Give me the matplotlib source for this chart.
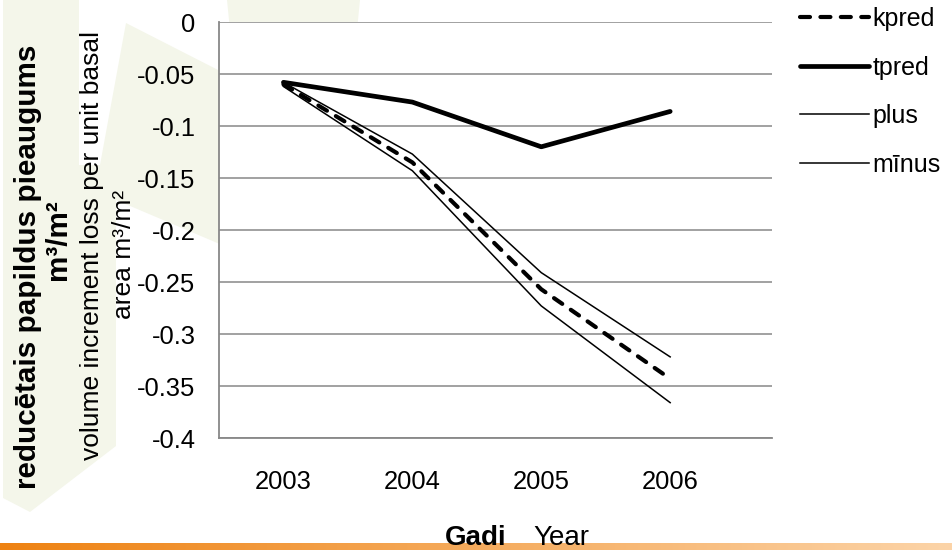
import numpy as np
import matplotlib
matplotlib.use("Agg")
import matplotlib.pyplot as plt
from matplotlib.patches import Polygon
from matplotlib.ticker import FuncFormatter, MultipleLocator

plt.rcParams['font.family'] = ['Liberation Sans', 'DejaVu Sans']
plt.rcParams['axes.unicode_minus'] = False

# Data
years = ['2003', '2004', '2005', '2006']
kpred = [-0.060, -0.135, -0.257, -0.343]
tpred = [-0.058, -0.077, -0.120, -0.086]
plus = [-0.058, -0.127, -0.241, -0.322]
minus = [-0.062, -0.143, -0.273, -0.366]

W, H = 952, 550
fig = plt.figure(figsize=(W / 100, H / 100), dpi=100)
fig.patch.set_facecolor('white')


def fx(x):
    return x / W


def fy(y):
    return 1 - y / H


# Pale decorative shapes of the slide background
shape_color = '#f4f6ea'
shapes = [
    [(3, 0), (79, 0), (79, 165), (100, 165), (116, 178), (116, 446),
     (30, 512), (3, 498)],
    [(126, 23), (222, 72), (222, 245), (116, 200), (100, 165)],
    [(227, 0), (360, 0), (357, 30), (230, 30)],
]
for pts in shapes:
    fig.patches.append(Polygon([(fx(x), fy(y)) for x, y in pts], closed=True,
                               transform=fig.transFigure, facecolor=shape_color,
                               edgecolor='none', zorder=0))

# Orange gradient bar along the bottom edge
bar_ax = fig.add_axes([0, 0, 1, 7 / H])
bar_ax.set_axis_off()
c0 = np.array([0xee, 0x82, 0x12]) / 255
c1 = np.array([0xfc, 0xd4, 0xa8]) / 255
t = np.linspace(0, 1, 400)[None, :, None]
grad = c0 + (c1 - c0) * t
bar_ax.imshow(grad, aspect='auto', extent=[0, 1, 0, 1])
bar_ax.set_zorder(0)

# Main plot area
ax = fig.add_axes([fx(219), fy(438), fx(772) - fx(219), fy(22) - fy(438)])
ax.set_facecolor('white')
ax.set_zorder(2)
x = np.arange(len(years))

grid_color = '#888888'
ax.plot(x, plus, color='black', lw=1.1, label='plus', zorder=3)
ax.plot(x, minus, color='black', lw=1.1, label='m\u012bnus', zorder=3)
ax.plot(x, tpred, color='black', lw=3.4, solid_capstyle='round',
        solid_joinstyle='round', label='tpred', zorder=4)
ax.plot(x, kpred, color='black', lw=3.0, dashes=(2.4, 2.5),
        dash_capstyle='round', label='kpred', zorder=5)

ax.set_xlim(-0.5, 3.79)
ax.set_ylim(-0.4, 0)
ax.yaxis.set_major_locator(MultipleLocator(0.05))
ax.yaxis.set_major_formatter(FuncFormatter(lambda v, p: f'{round(v, 2):g}'))
ax.set_xticks(x)
ax.set_xticklabels(years)
ax.grid(axis='y', color=grid_color, lw=1.1)
ax.set_axisbelow(True)
for s in ['top', 'right']:
    ax.spines[s].set_visible(False)
for s in ['left', 'bottom']:
    ax.spines[s].set_color(grid_color)
    ax.spines[s].set_linewidth(1.3)
ax.tick_params(axis='both', length=0, labelsize=18.4, colors='black')
ax.tick_params(axis='y', pad=17)
ax.tick_params(axis='x', pad=23)

# Legend to the right of the plot
handles, labels = ax.get_legend_handles_labels()
order = [labels.index(n) for n in ['kpred', 'tpred', 'plus', 'm\u012bnus']]
fig.legend([handles[i] for i in order], [labels[i] for i in order],
           loc='upper left', bbox_to_anchor=(fx(800), fy(7)), frameon=False,
           fontsize=18, handlelength=2.75, handletextpad=0.15,
           labelspacing=0.98, borderpad=0, borderaxespad=0)

# Axis titles
fig.text(fx(28), fy(267), 'reduc\u0113tais papildus pieaugums', rotation=90,
         ha='center', va='center', fontsize=21.3, fontweight='bold')
fig.text(fx(58), fy(240), 'm\u00b3/m\u00b2', rotation=90,
         ha='center', va='center', fontsize=21.3, fontweight='bold')
fig.text(fx(92), fy(245), 'volume increment loss per unit basal', rotation=90,
         ha='center', va='center', fontsize=19)
fig.text(fx(124), fy(254), 'area m\u00b3/m\u00b2', rotation=90,
         ha='center', va='center', fontsize=19)

fig.text(fx(445), fy(545), 'Gadi', ha='left', va='baseline',
         fontsize=20, fontweight='bold', zorder=5)
fig.text(fx(533), fy(545), 'Year', ha='left', va='baseline',
         fontsize=20, zorder=5)

fig.savefig('out.png', dpi=100, facecolor='white')
